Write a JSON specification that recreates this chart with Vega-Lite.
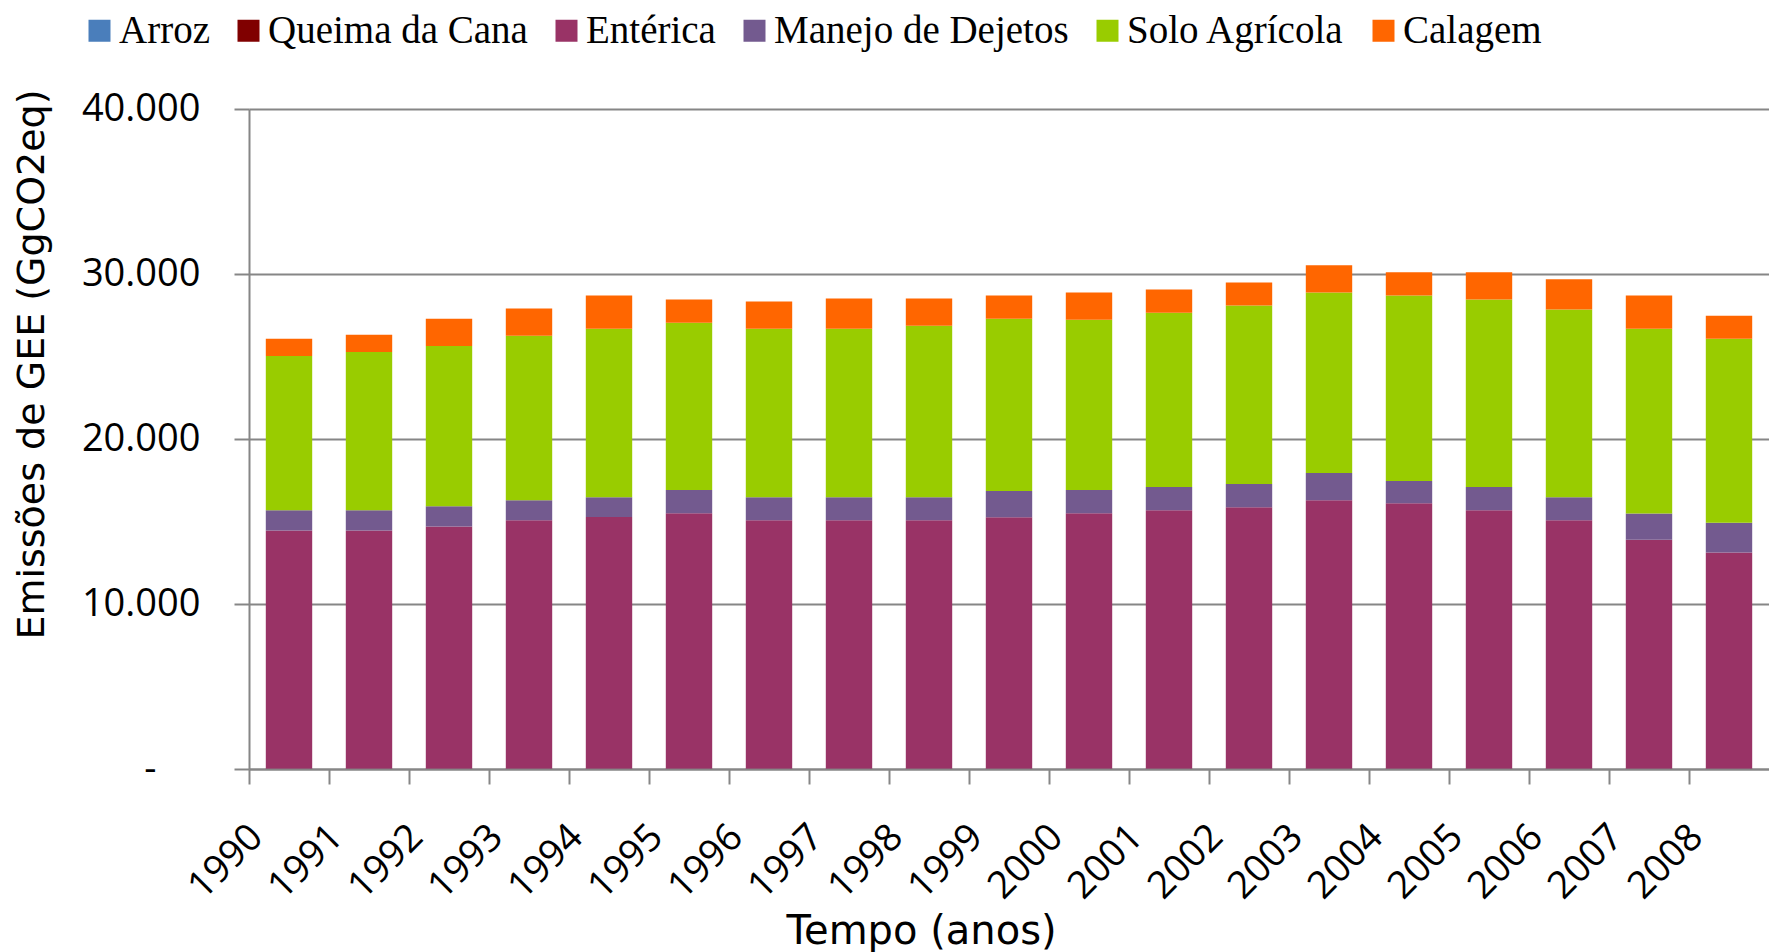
{
  "$schema": "https://vega.github.io/schema/vega-lite/v6.json",
  "width": 1520,
  "height": 660,
  "autosize": {"type": "none"},
  "padding": {"left": 249, "top": 109, "right": 0, "bottom": 183},
  "background": "white",
  "config": {"view": {"stroke": null}},
  "datasets": {
    "ordemFontes": [
      {"fonte":"Arroz","ordem":1},{"fonte":"Queima da Cana","ordem":2},{"fonte":"Entérica","ordem":3},{"fonte":"Manejo de Dejetos","ordem":4},{"fonte":"Solo Agrícola","ordem":5},{"fonte":"Calagem","ordem":6}
    ],
    "emissoes": [
      {"ano":"1990","fonte":"Arroz","valor":20},{"ano":"1990","fonte":"Queima da Cana","valor":15},{"ano":"1990","fonte":"Entérica","valor":14424},{"ano":"1990","fonte":"Manejo de Dejetos","valor":1223},{"ano":"1990","fonte":"Solo Agrícola","valor":9349},{"ano":"1990","fonte":"Calagem","valor":1039},
      {"ano":"1991","fonte":"Arroz","valor":20},{"ano":"1991","fonte":"Queima da Cana","valor":15},{"ano":"1991","fonte":"Entérica","valor":14424},{"ano":"1991","fonte":"Manejo de Dejetos","valor":1223},{"ano":"1991","fonte":"Solo Agrícola","valor":9594},{"ano":"1991","fonte":"Calagem","valor":1039},
      {"ano":"1992","fonte":"Arroz","valor":20},{"ano":"1992","fonte":"Queima da Cana","valor":15},{"ano":"1992","fonte":"Entérica","valor":14669},{"ano":"1992","fonte":"Manejo de Dejetos","valor":1222},{"ano":"1992","fonte":"Solo Agrícola","valor":9716},{"ano":"1992","fonte":"Calagem","valor":1650},
      {"ano":"1993","fonte":"Arroz","valor":20},{"ano":"1993","fonte":"Queima da Cana","valor":15},{"ano":"1993","fonte":"Entérica","valor":15035},{"ano":"1993","fonte":"Manejo de Dejetos","valor":1223},{"ano":"1993","fonte":"Solo Agrícola","valor":9961},{"ano":"1993","fonte":"Calagem","valor":1650},
      {"ano":"1994","fonte":"Arroz","valor":20},{"ano":"1994","fonte":"Queima da Cana","valor":15},{"ano":"1994","fonte":"Entérica","valor":15239},{"ano":"1994","fonte":"Manejo de Dejetos","valor":1202},{"ano":"1994","fonte":"Solo Agrícola","valor":10205},{"ano":"1994","fonte":"Calagem","valor":2017},
      {"ano":"1995","fonte":"Arroz","valor":20},{"ano":"1995","fonte":"Queima da Cana","valor":15},{"ano":"1995","fonte":"Entérica","valor":15463},{"ano":"1995","fonte":"Manejo de Dejetos","valor":1406},{"ano":"1995","fonte":"Solo Agrícola","valor":10144},{"ano":"1995","fonte":"Calagem","valor":1406},
      {"ano":"1996","fonte":"Arroz","valor":20},{"ano":"1996","fonte":"Queima da Cana","valor":15},{"ano":"1996","fonte":"Entérica","valor":15035},{"ano":"1996","fonte":"Manejo de Dejetos","valor":1406},{"ano":"1996","fonte":"Solo Agrícola","valor":10205},{"ano":"1996","fonte":"Calagem","valor":1650},
      {"ano":"1997","fonte":"Arroz","valor":20},{"ano":"1997","fonte":"Queima da Cana","valor":15},{"ano":"1997","fonte":"Entérica","valor":15035},{"ano":"1997","fonte":"Manejo de Dejetos","valor":1406},{"ano":"1997","fonte":"Solo Agrícola","valor":10205},{"ano":"1997","fonte":"Calagem","valor":1834},
      {"ano":"1998","fonte":"Arroz","valor":20},{"ano":"1998","fonte":"Queima da Cana","valor":15},{"ano":"1998","fonte":"Entérica","valor":15035},{"ano":"1998","fonte":"Manejo de Dejetos","valor":1406},{"ano":"1998","fonte":"Solo Agrícola","valor":10389},{"ano":"1998","fonte":"Calagem","valor":1650},
      {"ano":"1999","fonte":"Arroz","valor":20},{"ano":"1999","fonte":"Queima da Cana","valor":15},{"ano":"1999","fonte":"Entérica","valor":15219},{"ano":"1999","fonte":"Manejo de Dejetos","valor":1589},{"ano":"1999","fonte":"Solo Agrícola","valor":10449},{"ano":"1999","fonte":"Calagem","valor":1406},
      {"ano":"2000","fonte":"Arroz","valor":20},{"ano":"2000","fonte":"Queima da Cana","valor":15},{"ano":"2000","fonte":"Entérica","valor":15463},{"ano":"2000","fonte":"Manejo de Dejetos","valor":1406},{"ano":"2000","fonte":"Solo Agrícola","valor":10327},{"ano":"2000","fonte":"Calagem","valor":1650},
      {"ano":"2001","fonte":"Arroz","valor":20},{"ano":"2001","fonte":"Queima da Cana","valor":15},{"ano":"2001","fonte":"Entérica","valor":15647},{"ano":"2001","fonte":"Manejo de Dejetos","valor":1405},{"ano":"2001","fonte":"Solo Agrícola","valor":10572},{"ano":"2001","fonte":"Calagem","valor":1406},
      {"ano":"2002","fonte":"Arroz","valor":20},{"ano":"2002","fonte":"Queima da Cana","valor":15},{"ano":"2002","fonte":"Entérica","valor":15830},{"ano":"2002","fonte":"Manejo de Dejetos","valor":1405},{"ano":"2002","fonte":"Solo Agrícola","valor":10817},{"ano":"2002","fonte":"Calagem","valor":1405},
      {"ano":"2003","fonte":"Arroz","valor":20},{"ano":"2003","fonte":"Queima da Cana","valor":15},{"ano":"2003","fonte":"Entérica","valor":16258},{"ano":"2003","fonte":"Manejo de Dejetos","valor":1650},{"ano":"2003","fonte":"Solo Agrícola","valor":10938},{"ano":"2003","fonte":"Calagem","valor":1650},
      {"ano":"2004","fonte":"Arroz","valor":20},{"ano":"2004","fonte":"Queima da Cana","valor":15},{"ano":"2004","fonte":"Entérica","valor":16074},{"ano":"2004","fonte":"Manejo de Dejetos","valor":1345},{"ano":"2004","fonte":"Solo Agrícola","valor":11244},{"ano":"2004","fonte":"Calagem","valor":1406},
      {"ano":"2005","fonte":"Arroz","valor":20},{"ano":"2005","fonte":"Queima da Cana","valor":15},{"ano":"2005","fonte":"Entérica","valor":15647},{"ano":"2005","fonte":"Manejo de Dejetos","valor":1405},{"ano":"2005","fonte":"Solo Agrícola","valor":11367},{"ano":"2005","fonte":"Calagem","valor":1650},
      {"ano":"2006","fonte":"Arroz","valor":20},{"ano":"2006","fonte":"Queima da Cana","valor":15},{"ano":"2006","fonte":"Entérica","valor":15035},{"ano":"2006","fonte":"Manejo de Dejetos","valor":1406},{"ano":"2006","fonte":"Solo Agrícola","valor":11366},{"ano":"2006","fonte":"Calagem","valor":1834},
      {"ano":"2007","fonte":"Arroz","valor":20},{"ano":"2007","fonte":"Queima da Cana","valor":15},{"ano":"2007","fonte":"Entérica","valor":13854},{"ano":"2007","fonte":"Manejo de Dejetos","valor":1589},{"ano":"2007","fonte":"Solo Agrícola","valor":11203},{"ano":"2007","fonte":"Calagem","valor":2017},
      {"ano":"2008","fonte":"Arroz","valor":20},{"ano":"2008","fonte":"Queima da Cana","valor":15},{"ano":"2008","fonte":"Entérica","valor":13080},{"ano":"2008","fonte":"Manejo de Dejetos","valor":1813},{"ano":"2008","fonte":"Solo Agrícola","valor":11142},{"ano":"2008","fonte":"Calagem","valor":1406}
    ]
  },
  "data": {"name": "emissoes"},
  "transform": [
    {"lookup": "fonte", "from": {"data": {"name": "ordemFontes"}, "key": "fonte", "fields": ["ordem"]}}
  ],
  "mark": {"type": "bar"},
  "encoding": {
    "x": {
      "field": "ano",
      "type": "ordinal",
      "scale": {"paddingInner": 0.42, "paddingOuter": 0.21},
      "axis": {
        "title": "Tempo (anos)",
        "bandPosition": -0.362,
        "labelAngle": -45,
        "labelAlign": "right",
        "labelBaseline": "middle",
        "labelOffset": -32,
        "labelPadding": 47,
        "labelFont": "Open Sans",
        "labelFontSize": 38,
        "labelColor": "black",
        "labelOverlap": false,
        "tickSize": 15,
        "tickColor": "#868686",
        "tickWidth": 2,
        "domainColor": "#868686",
        "domainWidth": 2,
        "titleFont": "DejaVu Sans",
        "titleFontSize": 40,
        "titleFontWeight": "normal",
        "titleColor": "black",
        "titleX": 672,
        "titleY": 162,
        "titleAlign": "center",
        "titleBaseline": "middle"
      }
    },
    "y": {
      "field": "valor",
      "type": "quantitative",
      "stack": "zero",
      "scale": {"domain": [0, 40000], "nice": false},
      "axis": {
        "title": "Emissões  de GEE (GgCO2eq)",
        "values": [0, 10000, 20000, 30000, 40000],
        "labelExpr": "datum.value == 0 ? '-' : replace(format(datum.value, ','), ',', '.')",
        "labelFont": "Open Sans",
        "labelFontSize": 38,
        "labelColor": "black",
        "labelPadding": {"condition": {"test": "datum.value == 0", "value": 78}, "value": 34},
        "tickSize": 15,
        "tickColor": "#868686",
        "tickWidth": 2,
        "domainColor": "#868686",
        "domainWidth": 2,
        "grid": true,
        "gridColor": "#868686",
        "gridWidth": 2,
        "titleFont": "DejaVu Sans",
        "titleFontSize": 38,
        "titleFontWeight": "normal",
        "titleColor": "black",
        "titleX": -217,
        "titleY": 255,
        "titleAngle": -90,
        "titleAlign": "center",
        "titleBaseline": "middle"
      }
    },
    "color": {
      "field": "fonte",
      "type": "nominal",
      "sort": ["Arroz", "Queima da Cana", "Entérica", "Manejo de Dejetos", "Solo Agrícola", "Calagem"],
      "scale": {
        "domain": ["Arroz", "Queima da Cana", "Entérica", "Manejo de Dejetos", "Solo Agrícola", "Calagem"],
        "range": ["#4A7EBB", "#800000", "#993366", "#735A8F", "#99CC00", "#FF6600"]
      },
      "legend": {
        "orient": "none",
        "direction": "horizontal",
        "legendX": -169,
        "legendY": -98,
        "title": null,
        "symbolType": "square",
        "symbolSize": 484,
        "symbolStrokeWidth": 0,
        "symbolOpacity": 1,
        "labelFont": "Liberation Serif",
        "labelFontSize": 39,
        "labelColor": "black",
        "labelOffset": 0,
        "columnPadding": 19,
        "padding": 0,
        "labelLimit": 0
      }
    },
    "order": {"field": "ordem", "type": "quantitative", "sort": "ascending"}
  }
}
